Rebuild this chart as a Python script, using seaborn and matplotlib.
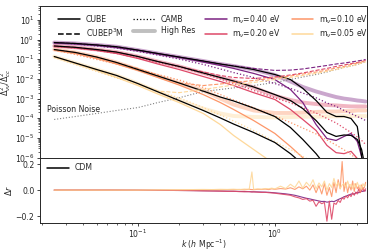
import matplotlib
matplotlib.use("Agg")
import matplotlib.pyplot as plt
from matplotlib.lines import Line2D
import seaborn as sns

# wavenumbers for the top panel (h/Mpc)
K = [0.0245, 0.035, 0.05, 0.07, 0.1, 0.14, 0.2, 0.3, 0.4, 0.5, 0.7,
     1.0, 1.3, 1.6, 2.0, 2.4, 2.8, 3.2, 3.6, 4.0, 4.3, 4.6]

MASSES = ["0.40", "0.20", "0.10", "0.05"]

# CUBE (black solid)
cube_040 = [0.70, 0.63, 0.53, 0.43, 0.29, 0.195, 0.129, 0.081, 0.057, 0.045, 0.030,
            0.0167, 0.0093, 0.0033, 8.0e-4, 2.0e-4, 1.23e-4, 1.23e-4, 9.8e-5, 3.8e-5, 1.15e-6, 1.4e-7]
cube_020 = [0.47, 0.40, 0.31, 0.23, 0.137, 0.076, 0.043, 0.020, 0.0118, 0.0078, 0.0039,
            0.0016, 8.0e-4, 3.1e-4, 7.7e-5, 1.9e-5, 1.2e-5, 1.42e-5, 1.35e-5, 8.4e-6, 2.6e-6, 2.5e-7]
cube_010 = [0.31, 0.22, 0.129, 0.068, 0.030, 0.0140, 0.0062, 0.0024, 0.0012, 7.6e-4, 3.3e-4,
            1.23e-4, 3.4e-5, 8.4e-6, 1.6e-6, 3.2e-7]
cube_005 = [0.137, 0.064, 0.030, 0.0149, 0.0058, 0.0022, 8.0e-4, 2.5e-4, 1.04e-4, 5.1e-5, 1.9e-5,
            5.9e-6, 1.6e-6, 4.6e-7]

# thin coloured solid curves
solid_040 = [0.66, 0.59, 0.50, 0.39, 0.28, 0.184, 0.122, 0.072, 0.048, 0.034, 0.019,
             0.0093, 0.0029, 6.3e-4, 4.8e-5, 9.4e-6, 7.5e-6, 1.2e-5, 1.7e-5, 6.6e-6, 1.15e-6, 1.4e-7]
solid_020 = [0.44, 0.37, 0.28, 0.195, 0.109, 0.057, 0.030, 0.0132, 0.0074, 0.0046, 0.0020,
             9.0e-4, 2.8e-4, 8.7e-5, 2.4e-5, 4.2e-6, 1.8e-6, 1.6e-6, 2.1e-6, 9.1e-7, 1.4e-7, 8e-8]
solid_010 = [0.29, 0.195, 0.109, 0.057, 0.027, 0.0118, 0.0049, 0.0016, 6.3e-4, 2.8e-4, 7.7e-5,
             1.7e-5, 3.7e-6, 1.0e-6, 2.0e-7]
solid_005 = [0.129, 0.060, 0.027, 0.0118, 0.0046, 0.0017, 6.3e-4, 1.76e-4, 4.8e-5, 1.34e-5, 2.6e-6,
             4.6e-7]

# CAMB (dotted)
camb_040 = [0.70, 0.59, 0.47, 0.37, 0.25, 0.163, 0.102, 0.054, 0.032, 0.021, 0.0118,
            0.0058, 0.0033, 0.0019, 0.0011, 6.0e-4, 4.0e-4, 2.5e-4, 1.75e-4, 1.23e-4, 9.8e-5, 7.7e-5]
camb_020 = [0.44, 0.37, 0.28, 0.195, 0.115, 0.068, 0.040, 0.019, 0.0099, 0.0058, 0.0026,
            0.0011, 6.0e-4, 3.5e-4, 1.86e-4, 9.8e-5, 5.8e-5, 3.2e-5, 1.9e-5, 1.12e-5, 7.5e-6, 4.7e-6]
camb_010 = [0.29, 0.173, 0.097, 0.057, 0.032, 0.0167, 0.0088, 0.0037, 0.0016, 8.5e-4, 3.5e-4,
            1.31e-4, 6.1e-5, 3.2e-5, 1.6e-5, 7.9e-6, 4.4e-6, 2.5e-6, 1.45e-6, 8e-7, 4.6e-7, 2.5e-7]
camb_005 = [0.122, 0.054, 0.024, 0.0111, 0.0052, 0.0024, 0.0011, 3.5e-4, 1.47e-4, 7.3e-5, 2.4e-5,
            6.6e-6, 2.6e-6, 1.15e-6, 5.1e-7, 2.5e-7]

# CUBEP3M (dashed)
p3m_040 = [0.70, 0.63, 0.53, 0.43, 0.29, 0.195, 0.129, 0.081, 0.057, 0.046, 0.034,
           0.027, 0.028, 0.032, 0.040, 0.048, 0.057, 0.064, 0.072, 0.081, 0.088, 0.097]
p3m_020 = [0.47, 0.40, 0.31, 0.23, 0.137, 0.076, 0.043, 0.0224, 0.0149, 0.0118, 0.0105,
           0.0125, 0.0158, 0.020, 0.027, 0.034, 0.043, 0.051, 0.060, 0.068, 0.076, 0.086]
p3m_010 = [0.31, 0.22, 0.129, 0.068, 0.034, 0.0149, 0.0062, 0.0046, 0.0055, 0.0066, 0.0083,
           0.0111, 0.0140, 0.0177, 0.0224, 0.028, 0.036, 0.043, 0.054, 0.064, 0.072, 0.081]
p3m_005 = [0.137, 0.064, 0.030, 0.0149, 0.0058, 0.0024, 0.0020, 0.0029, 0.0039, 0.0049, 0.0066,
           0.0093, 0.0118, 0.0149, 0.019, 0.024, 0.030, 0.038, 0.045, 0.054, 0.064, 0.072]

# High Res (thick, translucent)
hires_040 = [0.70, 0.63, 0.53, 0.43, 0.29, 0.195, 0.129, 0.081, 0.057, 0.045, 0.030,
             0.0158, 0.0074, 0.0039, 0.0023, 0.0016, 0.0012, 0.0010, 9.0e-4, 8.0e-4, 7.6e-4, 7.1e-4]
hires_020 = [0.47, 0.40, 0.31, 0.23, 0.137, 0.076, 0.043, 0.020, 0.0118, 0.0078, 0.0037,
             0.0014, 8.5e-4, 6.3e-4, 5.3e-4, 4.7e-4, 4.5e-4, 4.2e-4, 4.0e-4, 4.0e-4, 4.0e-4, 4.0e-4]
hires_010 = [0.31, 0.22, 0.129, 0.068, 0.030, 0.0140, 0.0062, 0.0026, 0.0010, 5.0e-4, 2.5e-4,
             1.86e-4, 1.86e-4, 1.95e-4, 2.1e-4, 2.2e-4, 2.2e-4, 2.3e-4, 2.3e-4, 2.5e-4, 2.5e-4, 2.5e-4]
hires_005 = [0.137, 0.064, 0.030, 0.0149, 0.0058, 0.0022, 8.0e-4, 3.1e-4, 1.76e-4, 1.31e-4, 1.17e-4,
             1.1e-4, 1.15e-4, 1.2e-4, 1.2e-4, 1.25e-4, 1.25e-4, 1.3e-4, 1.3e-4, 1.3e-4, 1.3e-4, 1.3e-4]

poisson = [8.7e-5, 1.23e-4, 1.76e-4, 2.5e-4, 3.5e-4, 6.3e-4, 0.0011, 0.0023, 0.0029, 0.0035, 0.0046,
           0.0066, 0.0093, 0.0125, 0.0167, 0.0224, 0.030, 0.038, 0.045, 0.054, 0.064, 0.072]

# residual panel
K_R = [0.0245, 0.04, 0.06, 0.1, 0.15, 0.2, 0.25, 0.3, 0.35, 0.4,
       0.45, 0.5, 0.55, 0.6, 0.65, 0.68, 0.7, 0.75, 0.8, 0.85,
       0.9, 0.95, 1.0, 1.1, 1.2, 1.3, 1.4, 1.5, 1.6, 1.7,
       1.8, 1.9, 2.0, 2.1, 2.2, 2.3, 2.4, 2.5, 2.6, 2.7,
       2.8, 2.9, 3.0, 3.1, 3.2, 3.3, 3.4, 3.5, 3.6, 3.7,
       3.8, 3.9, 4.0, 4.1, 4.2, 4.3, 4.4, 4.5, 4.6]
dr_040 = [0.0, 0.0, 0.0, -0.001, -0.002, -0.003, -0.004, -0.005, -0.006, -0.007,
          -0.008, -0.009, -0.010, -0.011, -0.012, -0.013, -0.013, -0.014, -0.015, -0.016,
          -0.017, -0.019, -0.021, -0.025, -0.029, -0.034, -0.040, -0.048, -0.056, -0.063,
          -0.068, -0.074, -0.079, -0.084, -0.088, -0.087, -0.093, -0.090, -0.086, -0.089,
          -0.081, -0.073, -0.066, -0.060, -0.051, -0.048, -0.041, -0.036, -0.031, -0.029,
          -0.031, -0.022, -0.017, -0.021, -0.012, -0.007, -0.011, -0.002, -0.006]
dr_020 = [0.0, 0.0, 0.0, -0.001, -0.002, -0.003, -0.004, -0.006, -0.007, -0.008,
          -0.010, -0.009, -0.012, -0.013, -0.012, -0.015, -0.014, -0.016, -0.018, -0.017,
          -0.020, -0.022, -0.024, -0.030, -0.035, -0.040, -0.052, -0.060, -0.072, -0.066,
          -0.085, -0.078, -0.125, -0.090, -0.105, -0.095, -0.240, -0.085, -0.225, -0.100,
          -0.110, -0.080, -0.095, -0.060, -0.070, -0.045, -0.060, -0.035, -0.050, -0.020,
          -0.040, -0.015, -0.030, 0.010, -0.020, -0.005, 0.020, -0.010, 0.010]
dr_010 = [0.0, 0.0, 0.0, 0.0, 0.001, 0.001, 0.002, 0.002, 0.003, 0.002,
          0.004, 0.003, 0.005, 0.002, 0.006, 0.004, 0.003, 0.006, 0.005, 0.008,
          0.004, 0.010, 0.006, 0.012, 0.008, 0.018, 0.005, 0.025, 0.010, 0.030,
          0.000, 0.040, -0.020, 0.035, -0.030, 0.050, -0.040, 0.020, -0.050, 0.060,
          -0.020, 0.080, 0.010, 0.220, -0.010, 0.060, -0.020, 0.040, 0.000, 0.070,
          -0.010, 0.050, 0.010, 0.030, -0.015, 0.040, 0.005, 0.020, 0.060]
dr_005 = [0.0, 0.0, 0.0, 0.0, 0.002, 0.003, 0.004, 0.005, 0.004, 0.006,
          0.005, 0.007, 0.004, 0.008, 0.006, 0.140, 0.006, 0.009, 0.007, 0.012,
          0.010, 0.015, 0.009, 0.030, 0.012, 0.045, 0.020, 0.070, 0.015, 0.060,
          0.030, 0.080, 0.010, 0.055, 0.025, 0.070, 0.000, 0.050, 0.020, 0.090,
          0.030, 0.060, 0.010, 0.040, 0.050, 0.020, 0.070, 0.030, 0.045, 0.010,
          0.050, 0.020, 0.060, 0.030, 0.040, 0.010, 0.050, 0.030, 0.040]

FS = 5.6


def line(ax, x, y, **kw):
    sns.lineplot(x=x[:len(y)], y=y, ax=ax, sort=False, estimator=None, **kw)


def main() -> None:
    sns.set_style("ticks")
    plt.rcParams["font.family"] = ["DejaVu Sans"]
    plt.rcParams["font.size"] = FS
    plt.rcParams["axes.linewidth"] = 0.7

    colors = [plt.cm.magma(v) for v in (0.36, 0.6, 0.78, 0.92)]

    fig, (ax, axr) = plt.subplots(
        2, 1, figsize=(3.74, 2.52), dpi=100, sharex=True,
        gridspec_kw={"height_ratios": [152, 65], "hspace": 0.0},
    )
    fig.subplots_adjust(left=0.107, right=0.981, top=0.976, bottom=0.117)

    cube = [cube_040, cube_020, cube_010, cube_005]
    solid = [solid_040, solid_020, solid_010, solid_005]
    camb = [camb_040, camb_020, camb_010, camb_005]
    p3m = [p3m_040, p3m_020, p3m_010, p3m_005]
    hires = [hires_040, hires_020, hires_010, hires_005]

    for i, c in enumerate(colors):
        line(ax, K, hires[i], color=c, lw=2.8, alpha=0.4)
    line(ax, K, poisson, color="grey", lw=0.8, linestyle=":")
    for i, c in enumerate(colors):
        line(ax, K, camb[i], color=c, lw=0.9, linestyle=":")
        line(ax, K, p3m[i], color=c, lw=0.8, linestyle="--")
        line(ax, K, solid[i], color=c, lw=0.9)
        line(ax, K, cube[i], color="black", lw=0.9)

    ax.text(0.0218, 2.8e-4, "Poisson Noise", fontsize=FS, va="center", ha="left")

    ax.set_xscale("log")
    ax.set_yscale("log")
    ax.set_xlim(0.0193, 4.7)
    ax.set_ylim(1e-6, 50)
    ax.set_ylabel(r"$\Delta^2_{\nu\nu}/\Delta^2_{cc}$", labelpad=1)

    handles = [
        Line2D([], [], color="black", lw=1.1),
        Line2D([], [], color="black", lw=1.1, linestyle="--"),
        Line2D([], [], color="black", lw=0.9, linestyle=":"),
        Line2D([], [], color="grey", lw=2.8, alpha=0.5),
    ] + [Line2D([], [], color=c, lw=1.1) for c in colors]
    labels = ["CUBE", r"CUBEP$^3$M", "CAMB", "High Res"] + [
        r"m$_\nu$=" + m + " eV" for m in MASSES
    ]
    ax.legend(handles, labels, loc="upper left", ncol=4, frameon=False,
              fontsize=FS, handlelength=2.8, columnspacing=1.3,
              handletextpad=0.7, labelspacing=0.3, bbox_to_anchor=(0.035, 1.0))

    dr = [dr_040, dr_020, dr_010, dr_005]
    for i, c in enumerate(colors):
        line(axr, K_R, dr[i], color=c, lw=0.8, alpha=0.9)
    axr.set_ylim(-0.25, 0.25)
    axr.set_yticks([-0.2, 0.0, 0.2])
    axr.set_ylabel(r"$\Delta r$", labelpad=1)
    axr.set_xlabel(r"$k$ ($h$ Mpc$^{-1}$)")
    axr.xaxis.set_label_coords(0.5, -0.23)
    axr.legend([Line2D([], [], color="black", lw=1.1)], ["CDM"], loc="upper left",
               frameon=False, fontsize=FS, handlelength=2.8, handletextpad=0.7,
               bbox_to_anchor=(0.0, 1.02))

    for a in (ax, axr):
        a.tick_params(labelsize=FS, length=2.5, width=0.6, pad=1.5)
        a.tick_params(which="minor", length=1.5, width=0.5)

    fig.savefig("out.png", dpi=100)
    plt.close(fig)


if __name__ == "__main__":
    main()
